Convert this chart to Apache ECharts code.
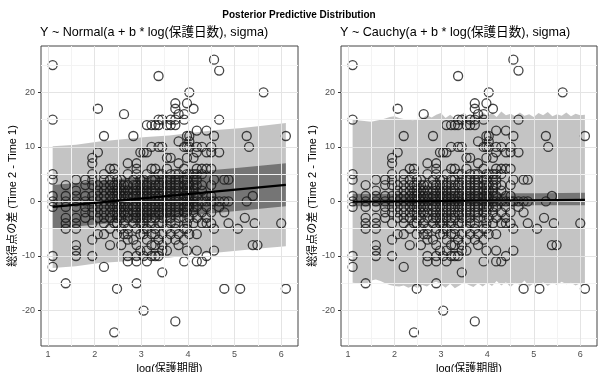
<!DOCTYPE html>
<html><head><meta charset="utf-8">
<script src="https://cdn.jsdelivr.net/npm/echarts@6/dist/echarts.min.js"></script>
<style>html,body{margin:0;padding:0;background:#fff}#c{width:598px;height:372px}</style>
</head><body><div id="c"></div>
<script>
// ---- tick values ----
const xTicks = [1, 2, 3, 4, 5, 6];
const xMinor = [1.5, 2.5, 3.5, 4.5, 5.5];
const yTicks = [-20, -10, 0, 10, 20];
const yMinor = [-25, -15, -5, 5, 15, 25];

// ---- observed data: x column positions and y values in each column ----
const colX = [1.10,1.38,1.60,1.80,1.95,2.07,2.20,2.33,2.42,2.48,2.57,2.63,2.71,2.83,2.90,2.98,3.05,3.12,3.22,3.30,3.37,3.45,3.55,3.63,3.73,3.80,3.92,3.98,4.03,4.12,4.19,4.30,4.40,4.50,4.56,4.67,4.78,4.87,5.07,5.12,5.22,5.26,5.31,5.39,5.43,5.49,5.62,6.00,6.10];
const colY = [
  [25,15,5,4,1,0,-1,-10,-12],
  [3,1,0,-1,-3,-4,-5,-15],
  [4,2,1,0,-1,-3,-4,-5,-8,-9,-10],
  [4,3,1,0,-1,-2,-3],
  [8,7,5,4,3,1,0,-1,-2,-4,-7,-10],
  [17,9,3,2,1,0,-1,-2,-3,-6],
  [12,5,4,3,2,1,0,-1,-2,-3,-4,-6,-12],
  [6,4,3,2,1,0,-1,-2,-3,-5,-8],
  [6,5,3,2,1,0,-1,-2,-4,-24],
  [4,3,2,1,0,-1,-2,-3,-4,-6,-16],
  [4,3,2,1,0,-1,-2,-3,-5,-8],
  [16,3,2,1,0,-1,-2,-4,-6],
  [7,5,3,2,1,0,-1,-2,-3,-5,-6,-7,-10,-11],
  [12,4,3,2,1,0,-1,-2,-3,-4,-7],
  [7,6,5,3,2,1,0,-1,-2,-3,-5,-8,-10,-11,-15],
  [9,4,3,2,1,0,-1,-2,-3,-4,-6,-9],
  [9,4,3,2,1,0,-1,-2,-3,-4,-5,-6,-10,-20],
  [14,9,5,3,2,1,0,-1,-2,-3,-5,-7,-9,-11],
  [14,10,6,4,3,2,1,0,-1,-2,-3,-4,-6,-8,-10],
  [14,6,4,3,2,1,0,-1,-2,-3,-5,-6,-8,-10],
  [23,15,14,10,5,3,1,0,-1,-2,-4,-7,-10],
  [15,10,5,4,3,2,1,0,-1,-2,-3,-4,-6,-8,-9,-13],
  [14,8,6,4,3,2,1,0,-1,-2,-3,-5,-7,-9],
  [15,14,8,5,4,3,2,1,0,-1,-2,-3,-4,-6],
  [18,17,15,14,5,4,3,2,1,0,-1,-2,-4,-5,-7,-22],
  [16,11,7,5,4,3,2,1,0,-1,-2,-3,-6,-8],
  [16,15,10,6,4,3,2,1,0,-1,-2,-3,-5,-7,-11],
  [18,12,10,8,5,4,3,2,1,0,-1,-2,-4,-5,-9],
  [20,12,11,10,5,3,2,1,0,-1,-3,-6],
  [17,8,5,4,3,2,1,0,-1,-2,-4],
  [13,10,9,6,5,4,3,1,0,-1,-3,-6,-9,-11],
  [10,6,5,3,2,0,-2,-4,-11],
  [13,9,6,1,0,-1,-3,-4,-10],
  [10,9,6,3,1,0,-2,-4],
  [26,12,4,0,-5,-9],
  [24,15,9,0,-1],
  [4,0,-2,-16],
  [4,0,-4],
  [-5],
  [-16],
  [-3],
  [12,0],
  [10],
  [1,-8],
  [-4],
  [-8],
  [20],
  [-4],
  [12,-16]
];

// ---- Normal model: predictive bands (light = wide interval, dark = narrow) ----
const normX      = [1.1,1.6,2.1,2.6,3.1,3.6,4.1,4.6,5.1,5.6,6.1];
const normWideHi = [10.1,10.4,11.0,11.4,11.8,12.1,12.6,13.1,13.4,13.9,14.4];
const normWideLo = [-12.2,-11.9,-11.3,-11.0,-10.6,-10.3,-9.7,-9.4,-9.0,-8.6,-8.2];
const normNarHi  = [3.0,3.4,3.8,4.2,4.6,5.0,5.4,5.8,6.2,6.6,7.0];
const normNarLo  = [-5.0,-4.6,-4.2,-3.8,-3.4,-3.0,-2.5,-2.1,-1.7,-1.3,-0.9];
const normLineX  = [1.1, 6.1];
const normLineY  = [-1.0, 3.05];

// ---- Cauchy model ----
const cauX = [1.1,1.2,1.3,1.4,1.5,1.6,1.7,1.8,1.9,2.0,2.1,2.2,2.3,2.4,2.5,2.6,2.7,2.8,2.9,3.0,3.1,3.2,3.3,3.4,3.5,3.6,3.7,3.8,3.9,4.0,4.1,4.2,4.3,4.4,4.5,4.6,4.7,4.8,4.9,5.0,5.1,5.2,5.3,5.4,5.5,5.6,5.7,5.8,5.9,6.0,6.1];
const cauWideHi = [15.0,14.9,14.8,14.7,14.6,14.8,15.0,15.2,15.5,15.6,15.3,15.1,15.0,14.9,15.1,15.3,15.8,15.4,15.9,16.2,15.3,15.9,15.2,15.6,16.3,15.4,16.0,15.5,16.4,15.7,16.2,15.5,16.5,15.8,16.1,15.6,16.3,15.7,16.0,15.5,16.2,15.8,16.4,15.6,16.0,15.7,16.3,15.6,16.1,15.8,15.9];
const cauWideLo = [-14.9,-15.0,-15.2,-15.1,-14.5,-14.3,-14.6,-15.0,-15.3,-15.5,-15.6,-15.4,-15.8,-15.5,-15.9,-15.3,-15.6,-15.0,-14.7,-15.2,-15.8,-15.1,-15.9,-15.4,-14.8,-15.3,-15.7,-15.0,-15.6,-14.9,-15.5,-14.6,-15.4,-14.8,-15.7,-14.9,-15.3,-14.5,-15.6,-15.0,-15.4,-14.8,-15.5,-14.9,-15.3,-14.7,-15.2,-14.9,-15.4,-15.0,-15.2];
const cauNarX  = [1.1,2.1,3.1,4.1,5.1,6.1];
const cauNarHi = [1.4,1.4,1.5,1.5,1.5,1.6];
const cauNarLo = [-0.9,-0.9,-0.8,-0.8,-0.7,-0.7];
const cauLineX = [1.1, 6.1];
const cauLineY = [-0.05, 0.3];

// ---- build ----
const points = [];
colX.forEach((x, i) => colY[i].forEach(y => points.push([x, y])));

const FONT = "'Liberation Sans', 'Noto Sans CJK JP', sans-serif";

function band(idx, xs, lo, hi, color, z) {
  return {
    type: 'custom', xAxisIndex: idx, yAxisIndex: idx, z: z, silent: true,
    data: [[xs[0], lo[0]]], clip: true,
    renderItem: function (params, api) {
      const pts = [];
      for (let i = 0; i < xs.length; i++) pts.push(api.coord([xs[i], hi[i]]));
      for (let i = xs.length - 1; i >= 0; i--) pts.push(api.coord([xs[i], lo[i]]));
      return { type: 'polygon', shape: { points: pts }, style: { fill: color } };
    }
  };
}
function gridLines(idx) {
  const d = [];
  xMinor.forEach(v => d.push({ xAxis: v, lineStyle: { color: '#f3f3f3', width: 1 } }));
  yMinor.forEach(v => d.push({ yAxis: v, lineStyle: { color: '#f3f3f3', width: 1 } }));
  xTicks.forEach(v => d.push({ xAxis: v, lineStyle: { color: '#e4e4e4', width: 1 } }));
  yTicks.forEach(v => d.push({ yAxis: v, lineStyle: { color: '#e4e4e4', width: 1 } }));
  return {
    type: 'line', xAxisIndex: idx, yAxisIndex: idx, z: 0, silent: true,
    data: [], showSymbol: false,
    markLine: { silent: true, symbol: ['none', 'none'], label: { show: false },
      animation: false, lineStyle: { type: 'solid' }, data: d }
  };
}
function scatter(idx) {
  return { type: 'scatter', xAxisIndex: idx, yAxisIndex: idx, z: 4, silent: true,
    data: points, symbol: 'circle', symbolSize: 9,
    itemStyle: { color: 'rgba(0,0,0,0)', borderColor: '#161616', borderWidth: 1.3 } };
}
function meanLine(idx, xs, ys) {
  return { type: 'line', xAxisIndex: idx, yAxisIndex: idx, z: 5, silent: true,
    data: xs.map((x, i) => [x, ys[i]]), showSymbol: false, symbol: 'none',
    lineStyle: { color: '#000', width: 2.2 } };
}
function xAx(idx) {
  return { type: 'value', gridIndex: idx, min: 0.85, max: 6.36,
    axisLine: { show: false }, splitLine: { show: false },
    axisTick: { show: true, customValues: xTicks, length: 3, lineStyle: { color: '#333' } },
    axisLabel: { customValues: xTicks, color: '#4d4d4d', fontSize: 9, margin: 4, fontFamily: FONT },
    name: 'log(保護期間)', nameLocation: 'middle', nameGap: 14,
    nameTextStyle: { fontSize: 11, color: '#000', fontFamily: FONT } };
}
function yAx(idx) {
  return { type: 'value', gridIndex: idx, min: -26.5, max: 28.5,
    axisLine: { show: false }, splitLine: { show: false },
    axisTick: { show: true, customValues: yTicks, length: 3, lineStyle: { color: '#333' } },
    axisLabel: { customValues: yTicks, color: '#4d4d4d', fontSize: 9, margin: 6, fontFamily: FONT },
    name: '総得点の差 (Time 2 - Time 1)', nameLocation: 'middle', nameGap: 22, nameRotate: 90,
    nameTextStyle: { fontSize: 11, color: '#000', fontFamily: FONT } };
}

const chart = echarts.init(document.getElementById('c'), null, { renderer: 'canvas' });
chart.setOption({
  animation: false,
  backgroundColor: '#fff',
  title: [
    { text: 'Posterior Predictive Distribution', left: 'center', top: 10, padding: 0,
      textStyle: { fontSize: 10, fontWeight: 'bold', color: '#000', fontFamily: FONT } },
    { text: 'Y ~ Normal(a + b * log(保護日数), sigma)', left: 40, top: 26, padding: 0,
      textStyle: { fontSize: 12.6, fontWeight: 'normal', color: '#000', fontFamily: FONT } },
    { text: 'Y ~ Cauchy(a + b * log(保護日数), sigma)', left: 340, top: 26, padding: 0,
      textStyle: { fontSize: 12.6, fontWeight: 'normal', color: '#000', fontFamily: FONT } }
  ],
  grid: [
    { left: 41, top: 46, width: 257, height: 300, show: true, borderColor: '#444', borderWidth: 1, backgroundColor: '#fff', containLabel: false, outerBoundsMode: 'none' },
    { left: 341, top: 46, width: 256, height: 300, show: true, borderColor: '#444', borderWidth: 1, backgroundColor: '#fff', containLabel: false, outerBoundsMode: 'none' }
  ],
  xAxis: [xAx(0), xAx(1)],
  yAxis: [yAx(0), yAx(1)],
  series: [
    gridLines(0), gridLines(1),
    band(0, normX, normWideLo, normWideHi, 'rgba(0,0,0,0.23)', 2),
    band(0, normX, normNarLo, normNarHi, 'rgba(0,0,0,0.40)', 3),
    band(1, cauX, cauWideLo, cauWideHi, 'rgba(0,0,0,0.23)', 2),
    band(1, cauNarX, cauNarLo, cauNarHi, 'rgba(0,0,0,0.40)', 3),
    scatter(0), scatter(1),
    meanLine(0, normLineX, normLineY),
    meanLine(1, cauLineX, cauLineY)
  ]
});
</script></body></html>
